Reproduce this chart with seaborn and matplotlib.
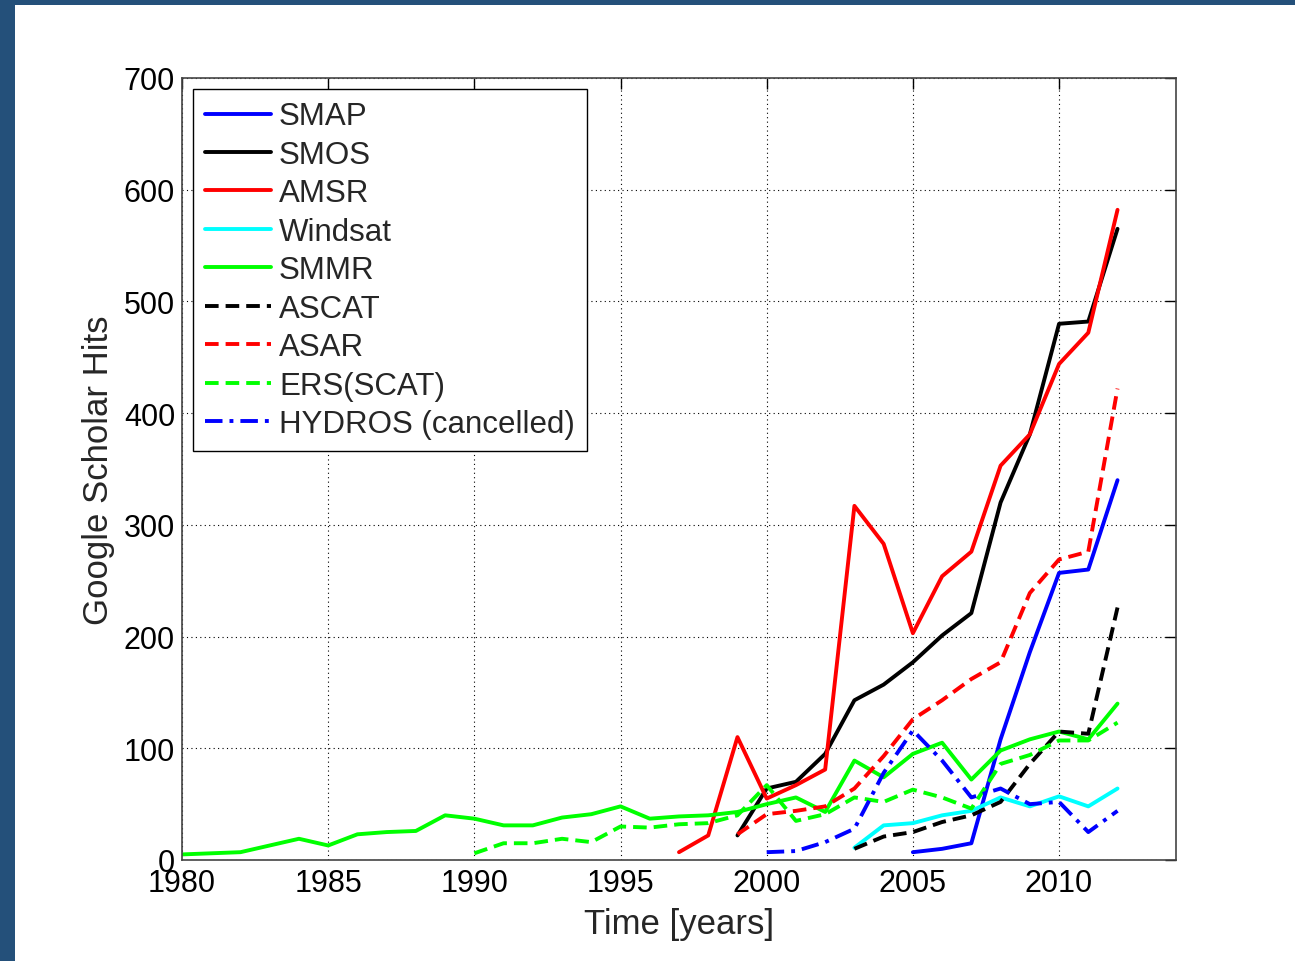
# -*- coding: utf-8 -*-
'''
Google Scholar hits per year for soil moisture missions
'''

import numpy as np
import pandas as pd
import seaborn as sns
import matplotlib.pyplot as plt
from matplotlib.patches import Rectangle

# values (hits per year)
smap_years = list(range(2005, 2013))
smap = [7, 10, 15, 108, 186, 257, 260, 340]

smos_years = list(range(1999, 2013))
smos = [22, 64, 70, 95, 143, 157, 177, 201, 221, 320, 381, 480, 482, 565]

amsr_years = list(range(1997, 2013))
amsr = [7, 22, 110, 55, 67, 81, 317, 283, 203, 254, 276, 353, 381, 444, 472, 582]

windsat_years = list(range(2003, 2013))
windsat = [11, 31, 33, 40, 44, 56, 48, 57, 48, 64]

smmr_years = list(range(1980, 2013))
smmr = [5, 6, 7, 13, 19, 13, 23, 25, 26, 40, 37, 31, 31, 38, 41, 48, 37,
        39, 40, 43, 50, 56, 43, 89, 74, 95, 105, 72, 98, 108, 115, 108, 140]

ascat_years = list(range(2003, 2013))
ascat = [10, 21, 25, 34, 40, 52, 86, 115, 113, 226]

asar_years = list(range(1999, 2013))
asar = [23, 41, 44, 48, 64, 93, 126, 143, 162, 177, 239, 269, 276, 422]

ers_years = list(range(1990, 2013))
ers = [6, 15, 15, 19, 16, 30, 29, 32, 33, 40, 67, 35, 41, 56, 52, 63, 56,
       46, 86, 94, 107, 107, 123]

hydros_years = list(range(2000, 2013))
hydros = [7, 8, 16, 28, 78, 116, 89, 56, 64, 50, 52, 25, 44]

series = [
    ('SMAP', smap_years, smap, '#0000ff', '-'),
    ('SMOS', smos_years, smos, '#000000', '-'),
    ('AMSR', amsr_years, amsr, '#ff0000', '-'),
    ('Windsat', windsat_years, windsat, '#00ffff', '-'),
    ('SMMR', smmr_years, smmr, '#00ff00', '-'),
    ('ASCAT', ascat_years, ascat, '#000000', (0, (3.5, 1.8))),
    ('ASAR', asar_years, asar, '#ff0000', (0, (3.5, 1.8))),
    ('ERS(SCAT)', ers_years, ers, '#00ff00', (0, (3.5, 1.8))),
    ('HYDROS (cancelled)', hydros_years, hydros, '#0000ff', (0, (4.5, 1.8, 1, 1.8))),
]

sns.set_style('white')
plt.rcParams['font.family'] = ['Liberation Sans', 'DejaVu Sans']

fig = plt.figure(figsize=(12.95, 9.62), dpi=100, facecolor='#24507a')
# white slide area behind the plot
fig.patches.append(Rectangle((15 / 1295, 0), 1 - 15 / 1295, 1 - 6 / 962,
                             transform=fig.transFigure, facecolor='white',
                             edgecolor='none', zorder=-10))

ax = fig.add_axes([182 / 1295, 101 / 962, (1176 - 182) / 1295, (861 - 79) / 962])
ax.set_zorder(5)

for name, yrs, vals, col, ls in series:
    df = pd.DataFrame({'year': yrs, 'hits': vals})
    sns.lineplot(data=df, x='year', y='hits', ax=ax, color=col, linestyle=ls,
                 lw=2.8, label=name)

ax.set_xlim(1980, 2014)
ax.set_ylim(0, 700)
ax.set_xticks(np.arange(1980, 2011, 5))
ax.set_yticks(np.arange(0, 701, 100))
ax.grid(True, color='black', linestyle=(0, (1, 3)), linewidth=0.8)
ax.tick_params(direction='in', length=8, width=1, top=True, right=True,
               labelsize=22, colors='black')
ax.tick_params(axis='x', pad=6)
ax.tick_params(axis='y', pad=5)
for s in ax.spines.values():
    s.set_color('#444444')
    s.set_linewidth(1.2)

ax.set_xlabel('Time [years]', fontsize=25, labelpad=6)
ax.set_ylabel('Google Scholar Hits', fontsize=25, labelpad=6)

leg = ax.legend(loc='upper left', fontsize=22.5, frameon=True, fancybox=False,
                framealpha=1, edgecolor='black', handlelength=2.1,
                handletextpad=0.25, labelspacing=0.27, borderpad=0.4,
                borderaxespad=0.35)
leg.get_frame().set_linewidth(1)

fig.savefig('out.png', dpi=100, facecolor=fig.get_facecolor())
